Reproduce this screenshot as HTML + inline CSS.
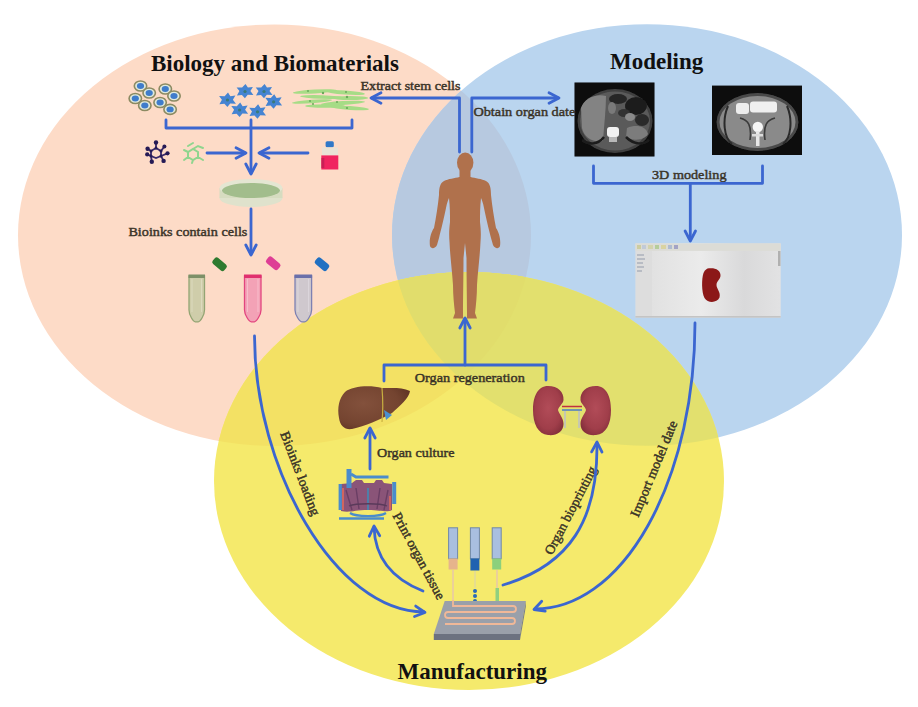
<!DOCTYPE html>
<html><head><meta charset="utf-8">
<style>
html,body{margin:0;padding:0;background:#fff;width:918px;height:707px;overflow:hidden}
svg{display:block}
text{font-family:"Liberation Serif",serif;}
.lb{font-size:13.5px;fill:#3a3428;stroke:#3a3428;stroke-width:0.45}
.tt{font-size:23px;font-weight:bold;fill:#111}
.ar{fill:none;stroke:#3b66d0;stroke-width:2.8;stroke-linecap:round;stroke-linejoin:round}
</style></head>
<body>
<svg width="918" height="707" viewBox="0 0 918 707">
<defs>
<clipPath id="cP"><ellipse cx="274.5" cy="235.2" rx="256.5" ry="210.8"/></clipPath>
<clipPath id="cB"><ellipse cx="647" cy="235" rx="255" ry="210.8"/></clipPath>
<clipPath id="cY"><ellipse cx="469" cy="481" rx="255" ry="209"/></clipPath>
</defs>
<rect width="918" height="707" fill="#fff"/>
<!-- circles -->
<ellipse cx="274.5" cy="235.2" rx="256.5" ry="210.8" fill="#fddbc7"/>
<ellipse cx="647" cy="235" rx="255" ry="210.8" fill="#bad5ef"/>
<g clip-path="url(#cP)"><ellipse cx="647" cy="235" rx="255" ry="210.8" fill="#b7c9e0"/></g>
<ellipse cx="469" cy="481" rx="255" ry="209" fill="#f5ea6c"/>
<g clip-path="url(#cY)">
 <ellipse cx="274.5" cy="235.2" rx="256.5" ry="210.8" fill="#f3e164"/>
 <ellipse cx="647" cy="235" rx="255" ry="210.8" fill="#e2e06e"/>
 <g clip-path="url(#cP)"><ellipse cx="647" cy="235" rx="255" ry="210.8" fill="#e1dd6c"/></g>
</g>


<!-- ===== ICONS ===== -->
<!-- epithelial cells -->
<g stroke="#8c8a62" stroke-width="1.6" fill="#dfe9dc">
 <ellipse cx="140.5" cy="86" rx="6.2" ry="5"/>
 <ellipse cx="149.2" cy="93" rx="6.2" ry="5"/>
 <ellipse cx="135.3" cy="98.5" rx="6.2" ry="5"/>
 <ellipse cx="144.8" cy="105.5" rx="6.2" ry="5"/>
 <ellipse cx="165.3" cy="89" rx="6.2" ry="5"/>
 <ellipse cx="174" cy="96" rx="6.2" ry="5"/>
 <ellipse cx="160.1" cy="102.5" rx="6.2" ry="5"/>
 <ellipse cx="170.1" cy="109.4" rx="6.2" ry="5"/>
</g>
<g fill="#3f7ccb">
 <ellipse cx="140.5" cy="86" rx="3.6" ry="2.9"/>
 <ellipse cx="149.2" cy="93" rx="3.6" ry="2.9"/>
 <ellipse cx="135.3" cy="98.5" rx="3.6" ry="2.9"/>
 <ellipse cx="144.8" cy="105.5" rx="3.6" ry="2.9"/>
 <ellipse cx="165.3" cy="89" rx="3.6" ry="2.9"/>
 <ellipse cx="174" cy="96" rx="3.6" ry="2.9"/>
 <ellipse cx="160.1" cy="102.5" rx="3.6" ry="2.9"/>
 <ellipse cx="170.1" cy="109.4" rx="3.6" ry="2.9"/>
</g>
<!-- star cells -->
<defs><polygon id="star" points="0.6,-7.2 3.0,-3.5 8.0,-4.2 5.5,0.0 8.5,4.0 2.8,3.7 0.0,7.2 -3.0,4.0 -8.0,4.4 -5.5,0.0 -8.3,-3.7 -2.8,-3.5"/></defs>
<g fill="#4584d2">
 <use href="#star" x="244.9" y="91.1"/>
 <use href="#star" x="264" y="91.1"/>
 <use href="#star" x="227.4" y="99.8"/>
 <use href="#star" x="273.6" y="101.5"/>
 <use href="#star" x="239.6" y="109.8"/>
 <use href="#star" x="257.5" y="111.5"/>
</g>
<g fill="#3a7a78">
 <circle cx="245" cy="91.5" r="1.6"/><circle cx="264" cy="91.5" r="1.6"/><circle cx="227.5" cy="100" r="1.6"/>
 <circle cx="273.6" cy="101.8" r="1.6"/><circle cx="239.6" cy="110" r="1.6"/><circle cx="257.5" cy="111.8" r="1.6"/>
</g>
<!-- spindle cells -->
<g fill="#a6dc86">
 <ellipse cx="315" cy="91.5" rx="22" ry="2" transform="rotate(-3 315 91.5)"/>
 <ellipse cx="345" cy="92.5" rx="20" ry="2" transform="rotate(4 345 92.5)"/>
 <ellipse cx="322" cy="97" rx="22" ry="1.8" transform="rotate(2 322 97)"/>
 <ellipse cx="350" cy="98" rx="18" ry="2"/>
 <ellipse cx="312" cy="101.5" rx="20" ry="1.8" transform="rotate(-4 312 101.5)"/>
 <ellipse cx="343" cy="103" rx="22" ry="2" transform="rotate(-3 343 103)"/>
 <ellipse cx="325" cy="106" rx="20" ry="1.8"/>
 <ellipse cx="350" cy="108" rx="19" ry="1.9" transform="rotate(4 350 108)"/>
</g>
<g fill="#6aa85a">
 <circle cx="308" cy="91" r="1"/><circle cx="323" cy="93" r="1.2"/><circle cx="346" cy="92" r="1"/>
 <circle cx="347" cy="97" r="1.2"/><circle cx="310" cy="101" r="1"/><circle cx="337" cy="102" r="1"/>
 <circle cx="313" cy="104" r="1"/><circle cx="347" cy="108" r="1.1"/>
</g>
<!-- molecule dark -->
<g stroke="#3a2a6a" stroke-width="1.8" fill="none">
 <path d="M156 142.5 L156 148 L151 151 L147.6 148.7 M156 148 L161 151 L164.4 146.4 M151 151 L151 156 L147.2 154.4 M161 151 L161 156 L167.5 153.3 M151 156 L156 158 L161 156 M151 156 L151.8 161.7 M161 156 L163.6 160.9"/>
</g>
<g fill="#251a55">
 <circle cx="156" cy="142.5" r="2.2"/><circle cx="164.4" cy="146.4" r="2"/><circle cx="147.6" cy="148.7" r="2.2"/>
 <circle cx="151" cy="151" r="1.5"/><circle cx="161" cy="151" r="1.5"/><circle cx="167.5" cy="153.3" r="2.1"/>
 <circle cx="147.2" cy="154.4" r="2.1"/><circle cx="151" cy="156" r="1.5"/><circle cx="151.8" cy="161.7" r="2.2"/>
 <circle cx="163.6" cy="160.9" r="2.2"/><circle cx="161" cy="156" r="1.5"/><circle cx="156" cy="148" r="1.5"/>
</g>
<!-- molecule green -->
<g stroke="#8fd58e" stroke-width="2" fill="none" stroke-linecap="round">
 <path d="M188 146 L193 143 M193 149 L198 146 L203 148 M188 152 L188 157 L193 160 L198 157 L198 152 L193 149 L188 152 L184 150 M198 157 L203 160 M193 160 L192 163 M188 157 L184 160"/>
</g>
<!-- flask -->
<rect x="325.6" y="141.2" width="8.2" height="6" rx="1.5" fill="#2f78c8"/>
<path d="M322 147.5 H338 V155.5 H322 Z" fill="#e9e3d6"/>
<path d="M321.3 155.4 H338.3 V169.5 H321.3 Z" fill="#f02460"/>
<rect x="321.3" y="158" width="3" height="10" fill="#b01a50" opacity="0.6"/>
<!-- petri dish -->
<ellipse cx="251" cy="198" rx="31.5" ry="9" fill="#dfe2cc"/>
<rect x="219.5" y="188" width="63" height="10" fill="#d6dcc0"/>
<ellipse cx="251" cy="188" rx="31.5" ry="9" fill="#e4e6d2"/>
<ellipse cx="251" cy="190.5" rx="29" ry="7.5" fill="#a2bd8c"/>
<!-- tube caps -->
<rect x="212" y="260" width="15" height="8" rx="2.5" fill="#2e7a30" transform="rotate(40 219.2 264.2)"/>
<rect x="265.7" y="259.3" width="15" height="8" rx="2.5" fill="#de3d95" transform="rotate(40 273.2 263.3)"/>
<rect x="314.5" y="260.2" width="15" height="8" rx="2.5" fill="#2070c2" transform="rotate(40 322 264.2)"/>
<!-- tubes -->
<path d="M189 276 H204.5 V310 C204.5 315 200.25 321.8 198.25 321.8 H195.25 C193.25 321.8 189 315 189 310 Z" fill="#cfcdaa" stroke="#93a473" stroke-width="1.3"/>
<path d="M192 279 V312 M201.5 279 V312" stroke="#e6e4cc" stroke-width="1" opacity="0.6"/>
<rect x="188.5" y="274.5" width="16.5" height="3.5" fill="#7d9068"/>
<path d="M244.5 276 H261 V310 C261 315 256.25 321.8 254.25 321.8 H251.25 C249.25 321.8 244.5 315 244.5 310 Z" fill="#f3a2b6" stroke="#e2457f" stroke-width="1.3"/>
<path d="M247.5 279 V312 M258 279 V312" stroke="#fbd0da" stroke-width="1" opacity="0.6"/>
<rect x="244.0" y="274.5" width="17.5" height="3.5" fill="#e0306e"/>
<path d="M295 276 H311.6 V310 C311.6 315 306.8 321.8 304.8 321.8 H301.8 C299.8 321.8 295 315 295 310 Z" fill="#cfc8ce" stroke="#7d80b2" stroke-width="1.3"/>
<path d="M298 279 V312 M308.6 279 V312" stroke="#e6e0e6" stroke-width="1" opacity="0.6"/>
<rect x="294.5" y="274.5" width="17.600000000000023" height="3.5" fill="#6a70aa"/>

<!-- human -->
<g fill="#b0714c">
<ellipse cx="465.2" cy="162.8" rx="8.2" ry="10.2"/>
<path d="M 459.5 170 L 459.5 177 C 455 178 448 179 444 181 C 440 183 439 188 439 195 C 438 205 436 218 434 228 C 431 232 429 240 430 246 C 431 249 435 249 437 245 L 439 238 C 441 230 444 218 446 208 C 447 203 448 200 449 198 C 450 207 450 215 450 222 C 449 230 449 236 449.5 242 C 450 255 452 270 453 285 C 453 295 454 305 455 313 L 453 318.5 L 463 318.5 L 463 312 C 463 300 463.5 275 463.5 258 L 465 243 L 466.5 258 C 466.5 275 467 300 467 312 L 467 318.5 L 477 318.5 L 475 313 C 476 305 477 295 477 285 C 478 270 480 255 480.5 242 C 481 236 481 230 480 222 C 480 215 480 207 481 198 C 482 200 483 203 484 208 C 486 218 489 230 491 238 L 493 245 C 495 249 499 249 500 246 C 501 240 499 232 496 228 C 494 218 492 205 491 195 C 491 188 490 183 486 181 C 482 179 475 178 470.5 177 L 470.5 170 Z"/>
</g>

<defs><filter id="bl" x="-5%" y="-5%" width="110%" height="110%"><feGaussianBlur stdDeviation="0.7"/></filter></defs>
<!-- CT 1 -->
<g filter="url(#bl)">
<rect x="574.5" y="82.5" width="80" height="74" fill="#0b0b0b"/>
<ellipse cx="615" cy="121" rx="37.5" ry="32" fill="#404040"/>
<ellipse cx="615" cy="121" rx="35" ry="29.5" fill="#5a5a5a"/>
<path d="M581 108 C584 98 596 93 606 96 C606 110 604 125 603 141 C594 143 584 138 582 128 Z" fill="#838383"/>
<ellipse cx="618" cy="99" rx="9" ry="5" fill="#262626"/>
<ellipse cx="636" cy="106" rx="11" ry="9" fill="#1e1e1e"/>
<ellipse cx="642" cy="120" rx="7" ry="6" fill="#2a2a2a"/>
<ellipse cx="624" cy="113" rx="6" ry="4" fill="#333"/>
<ellipse cx="630" cy="117" rx="5" ry="4" fill="#8a8a8a"/>
<ellipse cx="612" cy="108" rx="4" ry="6" fill="#7a7a7a"/>
<path d="M627 128 C636 124 646 126 648 134 C644 141 632 141 626 137 Z" fill="#7c7c7c"/>
<path d="M604 137 C598 145 588 145 582 140 M626 137 C634 145 644 145 649 140" stroke="#1c1c1c" stroke-width="2.5" fill="none"/>
<rect x="607" y="127" width="12" height="10" rx="3" fill="#f2f2f2"/>
<rect x="609" y="137" width="8" height="5" fill="#b8b8b8"/>
</g>
<!-- CT 2 -->
<g filter="url(#bl)">
<rect x="712" y="85.6" width="90" height="69.4" fill="#0a0a0a"/>
<ellipse cx="757.5" cy="122" rx="41" ry="29" fill="#4a4a4a"/>
<ellipse cx="757.5" cy="122" rx="38" ry="26" fill="#8a8a8a"/>
<path d="M728 106 C722 120 724 138 732 144 M787 106 C793 120 791 138 783 144" stroke="#2a2a2a" stroke-width="2" fill="none"/>
<path d="M740 118 C748 120 752 125 750 140 M775 118 C767 120 763 125 765 140" stroke="#3a3a3a" stroke-width="1.6" fill="none"/>
<rect x="736" y="103" width="13" height="11" rx="3" fill="#ededed"/>
<rect x="750" y="101.5" width="27" height="11" rx="3" fill="#f0f0f0"/>
<circle cx="757.8" cy="127" r="5.2" fill="#f6f6f6"/>
<rect x="756" y="131" width="3.5" height="15" fill="#e8e8e8"/>
<rect x="752" y="134" width="11" height="2.5" fill="#dcdcdc"/>

</g>
<!-- software screenshot -->
<defs><linearGradient id="gsw" x1="0" y1="0" x2="1" y2="0">
<stop offset="0" stop-color="#dedede"/><stop offset="0.45" stop-color="#ebebeb"/><stop offset="0.75" stop-color="#d9d9da"/><stop offset="1" stop-color="#e2e2e3"/></linearGradient></defs>
<rect x="635.4" y="243.4" width="145.3" height="74.2" fill="url(#gsw)"/>
<rect x="635.4" y="243.4" width="145.3" height="7.5" fill="#dcdcd6"/>
<g opacity="0.75">
<rect x="637" y="245" width="4" height="4" fill="#c8c890"/><rect x="642" y="245" width="4" height="4" fill="#b8c4d8"/>
<rect x="648" y="245" width="5" height="4" fill="#d0d0a0"/><rect x="655" y="245" width="4" height="4" fill="#a8c888"/>
<rect x="661" y="245" width="5" height="4" fill="#d8d090"/><rect x="668" y="245" width="4" height="4" fill="#a0b0d0"/>
<rect x="674" y="245" width="4" height="4" fill="#9090c0"/>
</g>
<rect x="636" y="251" width="16" height="65" fill="#dddddd"/>
<rect x="637" y="254" width="7" height="2" fill="#b8bcc4"/><rect x="637" y="258" width="8" height="2" fill="#b8bcc4"/>
<rect x="637" y="262" width="6" height="2" fill="#b8bcc4"/><rect x="637" y="266" width="7" height="2" fill="#b8bcc4"/>
<rect x="637" y="270" width="5" height="2" fill="#b8bcc4"/>
<rect x="635.4" y="316" width="145.3" height="1.6" fill="#c4c4c4"/>
<rect x="778" y="251" width="2.5" height="15" fill="#b0b0b0"/>
<path d="M709 268.3 C715 267.5 721 270 720.5 276 C720 280 716.5 281 716.5 285 C716.5 289 721 292 719.5 297.5 C717 303 708 303.5 704.5 298 C701.5 292 701.5 279 703.5 273 C705 269.5 707 268.6 709 268.3 Z" fill="#8c1818"/>
<defs>
<radialGradient id="gk" cx="0.5" cy="0.45" r="0.6"><stop offset="0" stop-color="#b24c58"/><stop offset="0.7" stop-color="#a03e4a"/><stop offset="1" stop-color="#85303c"/></radialGradient>
<radialGradient id="gl" cx="0.35" cy="0.4" r="0.7"><stop offset="0" stop-color="#83513c"/><stop offset="0.7" stop-color="#744430"/><stop offset="1" stop-color="#603525"/></radialGradient>
</defs>
<!-- liver -->
<path d="M345 392 C352 386 370 385 382 388 C392 388 402 387 410 391 C409 398 400 406 392 413 C380 420 365 426 352 429 C345 430 340 426 339 418 C337 408 339 398 345 392 Z" fill="url(#gl)"/>
<path d="M382 388 C383 400 383 412 382 422" stroke="#c8b040" stroke-width="1.2" fill="none"/>
<path d="M384 410 L392 415 L386 420 Z" fill="#4a90d0"/>

<!-- kidneys -->
<path d="M548 386 C558 386 564 392 563.5 400 C563 404 559 406 558 410 C559 414 563.5 418 563.5 424 C563.5 432 556 436 548 435 C538 434 533 424 533 410 C533 396 538 386 548 386 Z" fill="url(#gk)"/>
<path d="M596 386 C586 386 580 392 580.5 400 C581 404 585 406 586 410 C585 414 580.5 418 580.5 424 C580.5 432 588 436 596 435 C606 434 611 424 611 410 C611 396 606 386 596 386 Z" fill="url(#gk)"/>
<path d="M562 406.5 H582" stroke="#c03040" stroke-width="1.5"/>
<path d="M562 410 H582" stroke="#4a7ac8" stroke-width="1.5"/>
<path d="M565 411 V428 M579 411 V428" stroke="#c6c8b0" stroke-width="2"/>

<!-- bioreactor -->
<path d="M341 484 L352 483 L356 480 L362 480 L364 483 L374 483 L376 480 L382 480 L384 483 L392 484 L392 510 C386 513 382 510 368 510 C354 510 350 513 341 511 Z" fill="#8a5478"/>
<path d="M346 490 L352 510 M356 488 L359 509 M380 488 L377 509 M388 490 L384 510" stroke="#6a3e64" stroke-width="1.4" fill="none"/>
<path d="M368 488 V510" stroke="#4f7ea8" stroke-width="2"/>
<path d="M349 506 C356 503 380 503 387 506" stroke="#5a3a5a" stroke-width="1.3" fill="none"/>
<g stroke="#4a8ccc" fill="none">
 <path d="M349 469 V488" stroke-width="5"/>
 <path d="M351 474 L356 477 H388.5" stroke-width="3"/>
 <path d="M340.2 484 V510" stroke-width="3.2"/>
 <path d="M394.2 482 V504" stroke-width="4"/>
 <path d="M350 513 C356 517 380 517 386 513" stroke-width="2.2"/>
 <path d="M339 518.5 H384" stroke-width="2.4"/>
</g>
<path d="M343 488 V510 M390 496 V510" stroke="#e06a5a" stroke-width="1.6"/>
<!-- syringes -->
<g>
 <rect x="448.6" y="527.8" width="9" height="31" fill="#a9bfe0" stroke="#7088a8" stroke-width="1"/>
 <rect x="448.6" y="558.5" width="9" height="11" fill="#e6b48c"/>
 <rect x="470.4" y="527.8" width="9" height="31" fill="#a9bfe0" stroke="#7088a8" stroke-width="1"/>
 <rect x="470.4" y="558.5" width="9" height="12" fill="#1f62b0"/>
 <rect x="492.2" y="527.8" width="9" height="31" fill="#a9bfe0" stroke="#7088a8" stroke-width="1"/>
 <rect x="492.2" y="558.5" width="9" height="11" fill="#8cd07c"/>
 <path d="M453 570 V600 M497 570 V600" stroke="#e8c8a8" stroke-width="1.5"/>
 <path d="M475 571 V588" stroke="#d8d0b0" stroke-width="1"/>
 <circle cx="475" cy="591" r="2" fill="#2a6ab8"/><circle cx="475" cy="596" r="2" fill="#2a6ab8"/><circle cx="475" cy="601" r="2" fill="#2a6ab8"/>
 <rect x="495.5" y="588" width="3.5" height="13" fill="#90d080"/>
</g>
<!-- platform -->
<path d="M444.7 601 L525.8 601 L520 634 L433.8 634 Z" fill="#9aa0aa"/>
<path d="M433.8 634 L520 634 L520 640 L433.8 640 Z" fill="#6c7280"/>
<path d="M520 634 L525.8 601 L525.8 607 L520 640 Z" fill="#7a808c"/>
<path d="M453 600 V606 H513 C517 606 517 612 513 612 H448 C444 612 444 618 448 618 H512 C516 618 516 624 512 624 H445" stroke="#f0b898" stroke-width="1.8" fill="none"/>

<!-- titles -->
<text class="tt" x="151" y="71">Biology and Biomaterials</text>
<text class="tt" x="610" y="68.5">Modeling</text>
<text class="tt" x="397.5" y="678.5">Manufacturing</text>

<!-- labels -->
<text class="lb" x="360.5" y="89.6" textLength="100" lengthAdjust="spacingAndGlyphs">Extract stem cells</text>
<text class="lb" x="473.4" y="115.7" textLength="102" lengthAdjust="spacingAndGlyphs">Obtain organ date</text>
<text class="lb" x="652" y="178.5" textLength="74.5" lengthAdjust="spacingAndGlyphs">3D modeling</text>
<text class="lb" x="128.4" y="236" textLength="119" lengthAdjust="spacingAndGlyphs">Bioinks contain cells</text>
<text class="lb" x="414.8" y="382" textLength="110" lengthAdjust="spacingAndGlyphs">Organ regeneration</text>
<text class="lb" x="377" y="457" textLength="77.5" lengthAdjust="spacingAndGlyphs">Organ culture</text>
<text class="lb" text-anchor="middle" transform="translate(296,475) rotate(69)" textLength="89" lengthAdjust="spacingAndGlyphs">Bioinks loading</text>
<text class="lb" text-anchor="middle" transform="translate(415,558) rotate(62)" textLength="96.5" lengthAdjust="spacingAndGlyphs">Print organ tissue</text>
<text class="lb" text-anchor="middle" transform="translate(574.5,512.5) rotate(-62.5)" textLength="97.5" lengthAdjust="spacingAndGlyphs">Organ bioprinting</text>
<text class="lb" text-anchor="middle" transform="translate(658,470.5) rotate(-67.5)" textLength="103" lengthAdjust="spacingAndGlyphs">Import model date</text>

<!-- arrows -->
<g class="ar">
 <path d="M459.5 152 V98 H372"/><path d="M381.0 92.8 L371.0 98.0 L381.0 103.2"/>
 <path d="M471.8 152 V98 H558"/><path d="M549.0 103.2 L559.0 98.0 L549.0 92.8"/>
 <path d="M166 120 V128 H352 V120"/>
 <path d="M251 120 V173"/><path d="M245.8 164.0 L251.0 174.0 L256.2 164.0"/>
 <path d="M207 153 H245"/><path d="M236.0 158.2 L246.0 153.0 L236.0 147.8"/>
 <path d="M308 153 H260"/><path d="M269.0 147.8 L259.0 153.0 L269.0 158.2"/>
 <path d="M251 209 V254"/><path d="M245.8 245.0 L251.0 255.0 L256.2 245.0"/>
 <path d="M254.5 336 C254.5 470 336 612 424 612"/><path d="M414.5 616.5 L425.0 612.5 L415.7 606.1"/>
 <path d="M593.5 166 V183.3 H762.5 V166"/>
 <path d="M690.3 183.3 V240"/><path d="M685.1 231.0 L690.3 241.0 L695.5 231.0"/>
 <path d="M695 323 A160 286 0 0 1 535 609"/><path d="M541.7 601.3 L534.0 609.5 L545.2 611.1"/>
 <path d="M384 381 V365 H546 V380"/>
 <path d="M465 365 V319"/><path d="M470.2 328.0 L465.0 318.0 L459.8 328.0"/>
 <path d="M370 469 V429"/><path d="M375.2 438.0 L370.0 428.0 L364.8 438.0"/>
 <path d="M423 591 C395 580 375 560 374 527"/><path d="M379.7 535.7 L374.0 526.0 L369.3 536.2"/>
 <path d="M503 585 C570 565 598 520 597 443"/><path d="M602.0 452.1 L597.0 442.0 L591.6 451.9"/>
</g>
</svg>
</body></html>
